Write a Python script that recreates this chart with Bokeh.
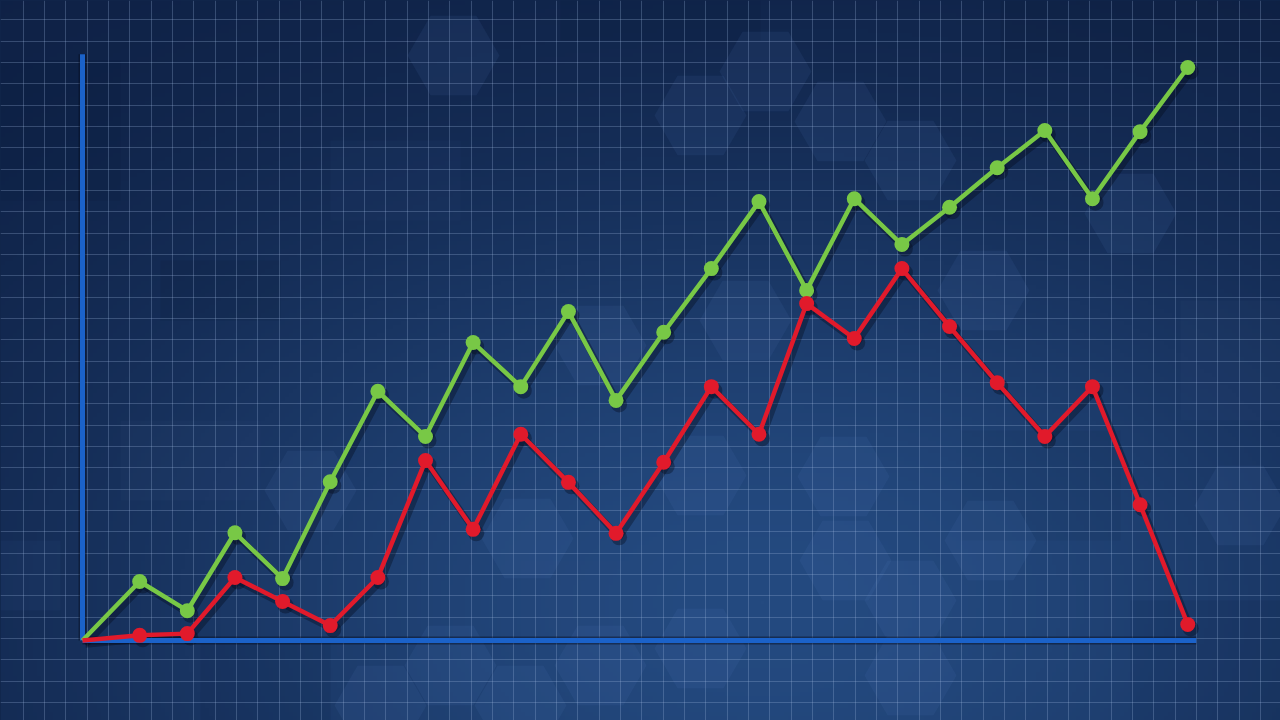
import numpy as np
from bokeh.plotting import figure
from bokeh.models import Range1d, FixedTicker
from bokeh.embed import file_html
from bokeh.resources import INLINE

# ---------------- data ----------------
periods = [0, 1.2, 2.2, 3.2, 4.2, 5.2, 6.2, 7.2, 8.2, 9.2, 10.2, 11.2,
           12.2, 13.2, 14.2, 15.2, 16.2, 17.2, 18.2, 19.2, 20.2, 21.2, 22.2, 23.2]
green_values = [0, 10.3, 5.2, 18.8, 10.8, 27.7, 43.5, 35.6, 52.0, 44.3, 57.4, 41.9,
                53.8, 64.9, 76.6, 61.1, 77.1, 69.1, 75.6, 82.5, 89.0, 77.1, 88.8, 100.0]
red_values = [0, 0.9, 1.2, 11.0, 6.8, 2.6, 11.0, 31.4, 19.4, 36.0, 27.6, 18.7,
              31.1, 44.3, 36.0, 58.8, 52.7, 64.9, 54.8, 45.0, 35.6, 44.3, 23.7, 2.8]
axis_x_end = 23.38
axis_y_end = 102.3

# ---------------- geometry ----------------
W, H = 1280, 720
PAD = 0                 # page offset of the canvas
PX_X = 47.64            # screen px per x unit
PX_Y = 5.73             # screen px per y unit
OX, OY = 82 - PAD, 640 - PAD  # origin inside the canvas (px)

x0 = -OX / PX_X
x1 = (W - OX) / PX_X
y1 = OY / PX_Y
y0 = -(H - OY) / PX_Y


def to_data(X, Y):
    """page pixel -> data coordinates (for decoration only)"""
    return (X - PAD - OX) / PX_X, (OY - (Y - PAD)) / PX_Y


p = figure(width=W, height=H, x_range=Range1d(x0, x1), y_range=Range1d(y0, y1),
           output_backend="svg", toolbar_location=None, min_border=0,
           background_fill_color="#12284f", border_fill_color="#12284f")
p.outline_line_color = None
p.axis.visible = False

# ---------------- background gradient ----------------
res = 4
gh, gw = H // res, W // res
yy, xx = np.mgrid[0:gh, 0:gw]
px_x = xx * res + PAD
px_y = (gh - 1 - yy) * res + PAD
t = np.exp(-(((px_x - 760) / 700.0) ** 2 + ((px_y - 600) / 430.0) ** 2))
dark = np.array([14, 32, 68])
bright = np.array([36, 74, 128])
rgb = dark[None, None, :] + (bright - dark)[None, None, :] * t[..., None]
img = np.empty((gh, gw), dtype=np.uint32)
view = img.view(dtype=np.uint8).reshape((gh, gw, 4))
view[..., 0] = rgb[..., 0].astype(np.uint8)
view[..., 1] = rgb[..., 1].astype(np.uint8)
view[..., 2] = rgb[..., 2].astype(np.uint8)
view[..., 3] = 255
p.image_rgba(image=[img], x=x0, y=y0, dw=x1 - x0, dh=y1 - y0, level="image")

# soft blocks
blocks = [(0, 60, 120, 200, 0.08, "#050f25"), (160, 260, 280, 320, 0.10, "#050f25"),
          (120, 420, 260, 500, 0.08, "#3a5a90"), (0, 540, 60, 610, 0.10, "#3a5a90"),
          (330, 140, 460, 220, 0.07, "#3a5a90"), (560, 0, 760, 40, 0.08, "#050f25"),
          (1000, 0, 1280, 60, 0.10, "#050f25"), (1180, 300, 1280, 420, 0.08, "#3a5a90"),
          (1130, 600, 1280, 720, 0.07, "#050f25"), (200, 640, 330, 720, 0.08, "#050f25"),
          (520, 560, 720, 640, 0.06, "#3a5a90"), (960, 430, 1120, 540, 0.06, "#050f25")]
for (a, b, c, d, al, col) in blocks:
    l, tp = to_data(a, b)
    r, bt = to_data(c, d)
    p.quad(left=l, right=r, top=tp, bottom=bt, fill_color=col, fill_alpha=al,
           line_color=None, level="image")

# hexagons
hexes = [(453, 55), (765, 71), (700, 115), (840, 121), (910, 160), (1130, 213),
         (983, 290), (700, 475), (843, 476), (845, 560), (910, 600), (910, 675),
         (600, 665), (700, 648), (310, 490), (527, 538), (380, 705), (520, 705),
         (450, 665), (600, 345), (745, 320), (1240, 505), (990, 540)]
hx, hy = zip(*[to_data(a, b) for a, b in hexes])
p.scatter(x=list(hx), y=list(hy), marker="hex", size=92, fill_color="#5c84c0",
          fill_alpha=0.10, line_color=None, level="image")

# grid
p.xgrid.ticker = FixedTicker(ticks=list((np.arange(0, 61) * 21.333 + 22.7 - 82) / PX_X))
p.ygrid.ticker = FixedTicker(ticks=list((640 - (np.arange(-1, 35) * 21.333 + 19.3)) / PX_Y))
p.grid.grid_line_color = "#9fb8e0"
p.grid.grid_line_alpha = 0.28
p.grid.grid_line_width = 1

# ---------------- shadows ----------------
sdx = 3 / PX_X
sdy = -4 / PX_Y
p.segment(x0=[0, 0], y0=[0, 0], x1=[axis_x_end, 0], y1=[0, axis_y_end],
          line_color="#050c1c", line_alpha=0.45, line_width=8)
sx = [v + sdx for v in periods]
p.line(sx, [v + sdy for v in red_values], line_color="#030816", line_alpha=0.35, line_width=6.5)
p.line(sx, [v + sdy for v in green_values], line_color="#030816", line_alpha=0.35, line_width=6.5)
p.scatter(sx[1:], [v + sdy for v in red_values[1:]], size=16, fill_color="#030816",
          fill_alpha=0.35, line_color=None)
p.scatter(sx[1:], [v + sdy for v in green_values[1:]], size=16, fill_color="#030816",
          fill_alpha=0.35, line_color=None)

# ---------------- axes lines ----------------
p.segment(x0=[0, 0], y0=[0, 0], x1=[axis_x_end, 0], y1=[0, axis_y_end],
          line_color="#1b62c9", line_width=5)

# ---------------- series ----------------
p.line(periods, green_values, line_color="#78c846", line_width=4.5)
p.scatter(periods[1:], green_values[1:], size=15, fill_color="#78c846", line_color=None)
p.line(periods, red_values, line_color="#e11a2b", line_width=4.5)
p.scatter(periods[1:], red_values[1:], size=15, fill_color="#e11a2b", line_color=None)

html = file_html(p, INLINE, title="chart")
html = html.replace("</head>", "<style>html,body{background:#112448;margin:0;overflow:hidden;}</style></head>", 1)
open("out.html", "w").write(html)
